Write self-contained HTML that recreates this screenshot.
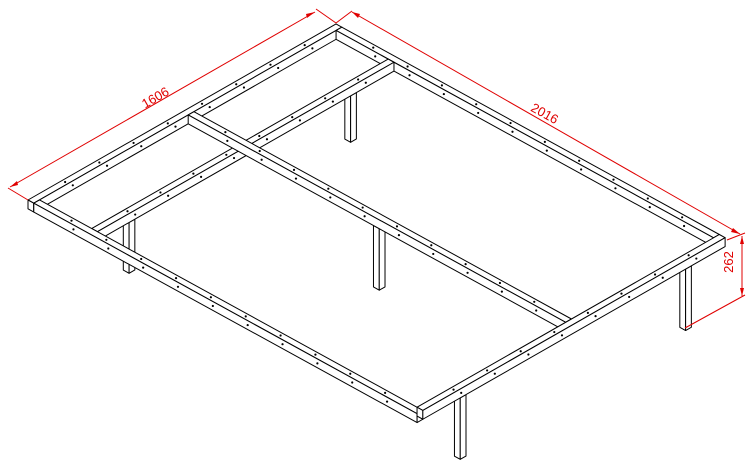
<!DOCTYPE html>
<html><head><meta charset="utf-8"><style>
html,body{margin:0;padding:0;background:#fff;width:754px;height:465px;overflow:hidden}
svg{display:block}
text{font-family:"Liberation Sans",sans-serif;font-size:13px;fill:#e00000}
</style></head><body>
<svg id="s" width="754" height="465" viewBox="0 0 754 465" xmlns="http://www.w3.org/2000/svg">
<g id="g" stroke="#000" stroke-width="1" fill="#fff" stroke-linejoin="round"></g>
<g stroke="#e00000" stroke-width="1" fill="none">
<line x1="28" y1="200" x2="8" y2="188"/>
<line x1="336" y1="23" x2="316" y2="9"/>
<line x1="10" y1="187" x2="315" y2="12"/>
<line x1="336" y1="23" x2="352" y2="11"/>
<line x1="352" y1="12" x2="740" y2="234"/>
<line x1="727" y1="240" x2="745" y2="233"/>
<line x1="742" y1="236" x2="742" y2="296"/>
<line x1="685" y1="328" x2="745" y2="295"/>
</g>
<g fill="#e00000">
<polygon points="10,187 17,181 18,185"/>
<polygon points="315,12 307,18 306,14"/>
<polygon points="352,12 360,14 358,18"/>
<polygon points="740,234 731,232 733,228"/>
<polygon points="742,236 740,244 744,244"/>
<polygon points="742,296 740,288 744,288"/>
</g>
<text x="155" y="102" text-anchor="middle" transform="rotate(-30 155 97)">1606</text>
<text x="545" y="118" text-anchor="middle" transform="rotate(29 545 113)">2016</text>
<text x="738" y="267" text-anchor="middle" transform="rotate(-90 733 267)">262</text>
</svg>
<script>
var g=document.getElementById('g'),NS="http://www.w3.org/2000/svg";
function P(x,y,z){return [28+x*0.1918+y*0.193,200-x*0.1096+y*0.106-z*0.221];}
function poly(pts){var e=document.createElementNS(NS,'polygon');e.setAttribute('points',pts.map(function(p){return p[0].toFixed(2)+','+p[1].toFixed(2)}).join(' '));g.appendChild(e);}
function dot(p){var e=document.createElementNS(NS,'circle');e.setAttribute('cx',p[0].toFixed(2));e.setAttribute('cy',p[1].toFixed(2));e.setAttribute('r','1.1');e.setAttribute('fill','#000');e.setAttribute('stroke','none');g.appendChild(e);}
function box(x0,x1,y0,y1,z0,z1,holes){
 poly([P(x0,y0,z1),P(x1,y0,z1),P(x1,y1,z1),P(x0,y1,z1)]);
 poly([P(x0,y0,z1),P(x0,y1,z1),P(x0,y1,z0),P(x0,y0,z0)]);
 poly([P(x0,y1,z1),P(x1,y1,z1),P(x1,y1,z0),P(x0,y1,z0)]);
 if(holes){
  var lx=x1-x0,ly=y1-y0,i,n;
  if(lx>ly){n=Math.floor(lx/170);for(i=1;i<n;i++){var x=x0+i*lx/n;dot(P(x,(y0+y1)/2,z1));dot(P(x+25,y1,(z0+z1)/2));}}
  else{n=Math.floor(ly/170);for(i=1;i<n;i++){var y=y0+i*ly/n;dot(P((x0+x1)/2,y,z1));dot(P(x0,y+25,(z0+z1)/2));}}
 }
}
var W=30,Z0=-40,Z1=0,ZB=-318;
// legs
box(1350,1380,300,330,-250,Z0);
box(805,835,990,1020,ZB,Z0);
box(1400,1430,1986,2016,ZB,Z0);
box(195,225,300,330,-270,Z0);
box(225,255,1986,2016,ZB,Z0);
// rails
box(0,1606,0,W,Z0,Z1,1);
box(1606-W,1606,W,2016-W,Z0,Z1,1);
box(W,1606-W,300,330,Z0,Z1,1);
box(805,835,W,2016-W,Z0,Z1,1);
box(0,W,W,2016,Z0,Z1,1);
box(W,1606,2016-W,2016,Z0,Z1,1);
</script>
</body></html>
